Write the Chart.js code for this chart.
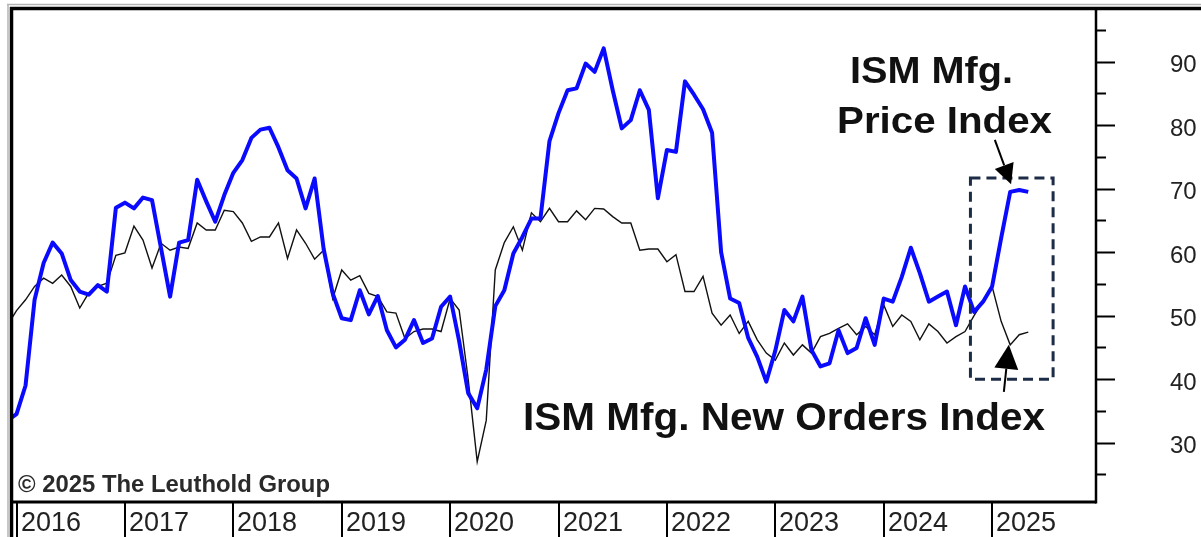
<!DOCTYPE html>
<html>
<head>
<meta charset="utf-8">
<script src="https://cdn.jsdelivr.net/npm/chart.js@4/dist/chart.umd.min.js"></script>
<style>
  html, body { margin: 0; padding: 0; background: #fff; }
  #wrap { width: 1201px; height: 537px; position: relative; }
</style>
</head>
<body>
<div id="wrap"><canvas id="ismChart"></canvas></div>
<script>
// ---------- Data ----------
// monthly values, first point is Dec 2015 (month -1, Jan 2016 = 0)
const firstMonth = -1;
const years = ['2016', '2017', '2018', '2019', '2020', '2021', '2022', '2023', '2024', '2025'];
const yLabels = [30, 40, 50, 60, 70, 80, 90];
const yTicks = [25, 30, 35, 40, 45, 50, 55, 60, 65, 70, 75, 80, 85, 90, 95];

const priceIndex = [
  33.5,
  34.5, 39.0, 52.5, 58.3, 61.5, 59.8, 55.6, 53.8, 53.3, 54.8, 53.8, 67.0,
  67.8, 66.9, 68.6, 68.2, 60.6, 53.0, 61.5, 61.9, 71.4, 68.0, 64.8, 69.0,
  72.5, 74.5, 78.0, 79.3, 79.6, 76.5, 72.9, 71.6, 66.9, 71.6, 60.5, 53.5,
  49.6, 49.3, 54.0, 50.2, 53.1, 47.7, 45.0, 46.2, 49.3, 45.7, 46.4, 51.4,
  53.0, 46.0, 37.8, 35.4, 41.5, 51.5, 54.0, 59.8, 62.4, 65.3, 65.3, 77.5,
  81.9, 85.5, 85.8, 89.7, 88.4, 92.1, 85.5, 79.5, 80.8, 85.5, 82.4, 68.5,
  76.1, 75.8, 86.9, 84.8, 82.5, 78.8, 60.0, 52.7, 52.0, 46.5, 43.5, 39.6,
  44.5, 50.9, 49.1, 53.0, 44.6, 42.0, 42.5, 47.7, 44.1, 44.9, 49.6, 45.4,
  52.7, 52.2, 56.1, 60.7, 56.7, 52.2, 53.0, 53.8, 48.5, 54.6, 50.6, 52.2,
  54.6, 62.2, 69.5, 69.8, 69.5
];

const newOrders = [
  48.5,
  50.8, 52.5, 54.6, 55.9, 55.1, 56.4, 54.6, 51.2, 53.6, 54.6, 55.1, 59.5,
  59.9, 64.1, 61.9, 57.5, 61.4, 60.3, 60.8, 60.6, 64.6, 63.5, 63.5, 66.6,
  66.4, 64.6, 61.7, 62.4, 62.4, 64.6, 59.0, 63.5, 61.4, 58.9, 60.3, 52.7,
  57.2, 55.6, 56.3, 53.5, 53.0, 50.6, 50.4, 46.4, 47.5, 47.9, 47.9, 47.5,
  52.7, 50.9, 40.0, 27.0, 33.5, 57.2, 61.5, 64.0, 60.3, 66.2, 64.8, 66.9,
  64.8, 64.8, 66.5, 65.1, 66.9, 66.8, 65.6, 64.6, 64.6, 60.3, 60.5, 60.5,
  58.5, 59.6, 53.8, 53.8, 56.2, 50.4, 48.5, 50.1, 47.2, 49.1, 46.2, 44.1,
  43.0, 45.7, 43.8, 45.4, 44.1, 46.7, 47.2, 48.0, 48.7, 47.0, 48.3, 47.0,
  51.7, 48.3, 50.1, 49.1, 46.2, 48.7, 47.5, 45.7, 46.7, 47.5, 50.0, 52.3,
  54.6, 49.1, 45.4, 47.0, 47.4
];

const toPoints = arr => arr.map((v, i) => ({ x: firstMonth + i, y: v }));

// ---------- Helpers ----------
function line(ctx, x1, y1, x2, y2) {
  ctx.beginPath();
  ctx.moveTo(x1, y1);
  ctx.lineTo(x2, y2);
  ctx.stroke();
}

// draw text squeezed/stretched to a given width
function fitText(ctx, text, left, right, baseline, font) {
  ctx.font = font;
  const w = ctx.measureText(text).width;
  ctx.save();
  ctx.translate(left, baseline);
  ctx.scale((right - left) / w, 1);
  ctx.textAlign = 'left';
  ctx.textBaseline = 'alphabetic';
  ctx.fillText(text, 0, 0);
  ctx.restore();
}

function arrow(ctx, x1, y1, x2, y2, headLen, headHalf) {
  const ang = Math.atan2(y2 - y1, x2 - x1);
  const bx = x2 - headLen * Math.cos(ang);
  const by = y2 - headLen * Math.sin(ang);
  ctx.lineWidth = 2;
  line(ctx, x1, y1, bx, by);
  ctx.beginPath();
  ctx.moveTo(x2, y2);
  ctx.lineTo(bx + headHalf * Math.sin(ang), by - headHalf * Math.cos(ang));
  ctx.lineTo(bx - headHalf * Math.sin(ang), by + headHalf * Math.cos(ang));
  ctx.closePath();
  ctx.fill();
}

// ---------- Frame, axis & year row ----------
const frame = {
  id: 'frame',
  afterDraw(chart) {
    const { ctx, chartArea: a, scales: { x, y } } = chart;
    const H = chart.height, W = chart.width;
    ctx.save();

    // outer gray edge
    ctx.strokeStyle = '#b4b4b4';
    ctx.lineWidth = 1.5;
    line(ctx, 7, 4.5, W, 4.5);
    line(ctx, 8, 4, 8, H);

    // plot border
    ctx.strokeStyle = '#000';
    ctx.lineWidth = 3.5;
    line(ctx, a.left - 2, a.top - 0.5, W, a.top - 0.5);
    line(ctx, a.left - 0.5, a.top - 2, a.left - 0.5, H);
    ctx.lineWidth = 3;
    line(ctx, a.left, a.bottom, a.right, a.bottom);
    ctx.lineWidth = 2.5;
    line(ctx, a.right, a.top, a.right, a.bottom + 1.5);

    // right axis ticks and labels
    ctx.lineWidth = 2;
    yTicks.forEach(v => {
      const py = Math.round(y.getPixelForValue(v)) + 0.5;
      const len = v % 10 === 0 ? 19 : 10;
      line(ctx, a.right, py, a.right + len, py);
    });
    ctx.fillStyle = '#222';
    ctx.font = '24px "Liberation Sans", Arial, sans-serif';
    ctx.textAlign = 'left';
    ctx.textBaseline = 'middle';
    yLabels.forEach(v => {
      ctx.fillText(String(v), a.right + 74, y.getPixelForValue(v) + 4);
    });

    // year separators and labels
    ctx.font = '27px "Liberation Sans", Arial, sans-serif';
    ctx.textBaseline = 'alphabetic';
    ctx.lineWidth = 2;
    years.forEach((yr, i) => {
      const px = Math.round(x.getPixelForValue(i * 12));
      line(ctx, px, a.bottom, px, H);
      ctx.fillText(yr, px + 4, a.bottom + 29);
    });

    ctx.restore();
  },

  // ---------- Annotations ----------
  afterDatasetsDraw(chart) {
    const { ctx, scales: { x, y } } = chart;
    ctx.save();
    ctx.fillStyle = '#111';

    fitText(ctx, 'ISM Mfg.', 850, 1013, 83, 'bold 37px "Liberation Sans", Arial, sans-serif');
    fitText(ctx, 'Price Index', 837, 1052, 133, 'bold 37px "Liberation Sans", Arial, sans-serif');
    fitText(ctx, 'ISM Mfg. New Orders Index', 523, 1045, 430, 'bold 39px "Liberation Sans", Arial, sans-serif');
    ctx.fillStyle = '#2a2a2a';
    fitText(ctx, '\u00A9 2025 The Leuthold Group', 18, 330, 492, 'bold 23px "Liberation Sans", Arial, sans-serif');

    // dashed box around the latest readings
    const bx1 = x.getPixelForValue(105.6), bx2 = x.getPixelForValue(114.75);
    const by1 = y.getPixelForValue(71.7), by2 = y.getPixelForValue(40);
    ctx.strokeStyle = '#1d2d48';
    ctx.lineWidth = 3;
    ctx.setLineDash([10, 6]);
    ctx.strokeRect(bx1, by1, bx2 - bx1, by2 - by1);
    ctx.setLineDash([]);

    // arrows
    ctx.strokeStyle = '#000';
    ctx.fillStyle = '#000';
    arrow(ctx, x.getPixelForValue(108.3), y.getPixelForValue(77.7),
               x.getPixelForValue(110.1), y.getPixelForValue(70.7), 20, 10);
    arrow(ctx, x.getPixelForValue(109.3), y.getPixelForValue(38.0),
               x.getPixelForValue(109.85), y.getPixelForValue(45.4), 24, 12);
    ctx.restore();
  }
};

// ---------- Chart ----------
const ctx = document.getElementById('ismChart').getContext('2d');
const chart = new Chart(ctx, {
  type: 'line',
  data: {
    datasets: [
      {
        label: 'ISM Mfg. Price Index',
        data: toPoints(priceIndex),
        borderColor: '#0a0aff',
        borderWidth: 4,
        borderJoinStyle: 'round',
        pointRadius: 0,
        tension: 0,
        clip: 0,
        order: 0
      },
      {
        label: 'ISM Mfg. New Orders Index',
        data: toPoints(newOrders),
        borderColor: '#111',
        borderWidth: 1.4,
        pointRadius: 0,
        tension: 0,
        clip: 0,
        order: 1
      }
    ]
  },
  options: {
    responsive: true,
    maintainAspectRatio: false,
    animation: false,
    layout: { padding: { left: 12, right: 105, top: 9, bottom: 35 } },
    scales: {
      x: { type: 'linear', min: -0.5, max: 119.5, display: false },
      y: { type: 'linear', min: 20.65, max: 98.3, display: false }
    },
    plugins: {
      legend: { display: false },
      tooltip: { enabled: false }
    }
  },
  plugins: [frame]
});
</script>
</body>
</html>
